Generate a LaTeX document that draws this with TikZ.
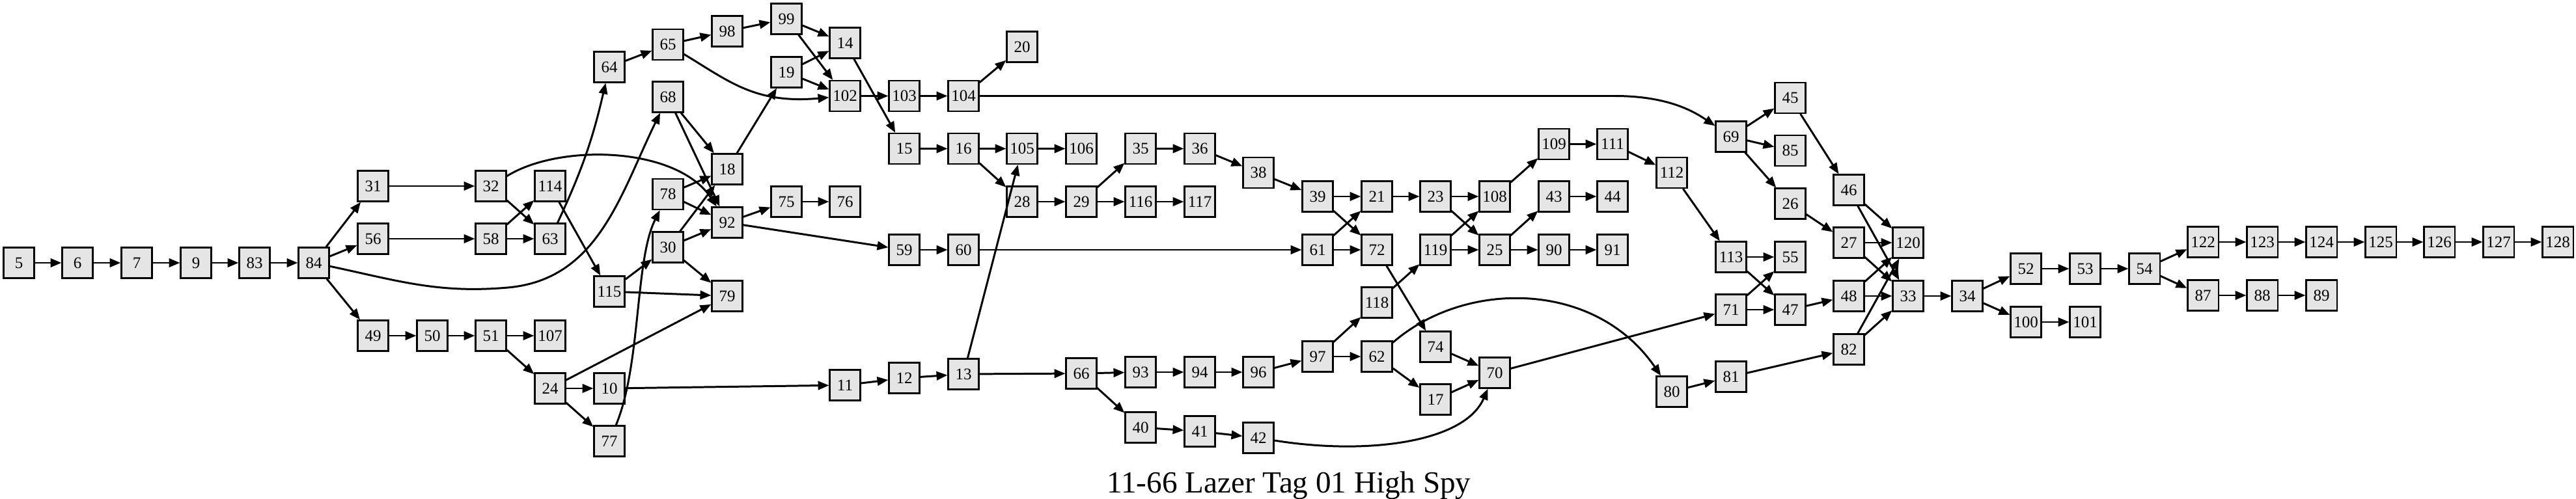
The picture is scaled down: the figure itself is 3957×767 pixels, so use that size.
\documentclass[tikz,border=0pt]{standalone}
\usepackage{fontspec}
\setmainfont{Liberation Serif}
\usetikzlibrary{arrows.meta}

\definecolor{boxfill}{gray}{0.9}
\tikzset{
  state/.style={draw, line width=0.6pt, fill=boxfill, minimum width=0.47cm, minimum height=0.47cm,
    inner sep=0pt, font=\fontsize{7.1}{8}\selectfont},
  conn/.style={line width=0.85pt, -{Triangle[length=4.8pt,width=3.8pt]}}
}

\begin{document}
\begin{tikzpicture}[x=0.01cm, y=-0.01cm]
    \useasboundingbox (0,0) rectangle (3957,767);

    % Opening chain
    \node[state] (n5) at (29,404) {5};
    \node[state] (n6) at (119,404) {6};
    \node[state] (n7) at (210,404) {7};
    \node[state] (n9) at (301,404) {9};
    \node[state] (n83) at (391,404) {83};
    \node[state] (n84) at (482,404) {84};

    % First branches
    \node[state] (n31) at (573,286) {31};
    \node[state] (n56) at (573,367) {56};
    \node[state] (n49) at (573,516) {49};
    \node[state] (n50) at (664,516) {50};
    \node[state] (n32) at (754,286) {32};
    \node[state] (n58) at (754,367) {58};
    \node[state] (n51) at (754,516) {51};
    \node[state] (n114) at (845,286) {114};
    \node[state] (n63) at (845,367) {63};
    \node[state] (n107) at (845,516) {107};
    \node[state] (n24) at (845,597) {24};
    \node[state] (n64) at (936,103) {64};
    \node[state] (n115) at (936,448) {115};
    \node[state] (n10) at (936,597) {10};
    \node[state] (n77) at (936,678) {77};
    \node[state] (n65) at (1026,68.5) {65};
    \node[state] (n68) at (1026,149) {68};
    \node[state] (n78) at (1026,298.5) {78};
    \node[state] (n30) at (1026,380) {30};
    \node[state] (n98) at (1117,48) {98};
    \node[state] (n18) at (1117,260) {18};
    \node[state] (n92) at (1117,342) {92};
    \node[state] (n79) at (1117,455) {79};
    \node[state] (n99) at (1208,29) {99};
    \node[state] (n19) at (1208,111) {19};
    \node[state] (n75) at (1208,310) {75};
    \node[state] (n14) at (1298,66) {14};
    \node[state] (n102) at (1298,147.5) {102};
    \node[state] (n76) at (1298,310) {76};
    \node[state] (n11) at (1298,592) {11};
    \node[state] (n103) at (1389,147.5) {103};
    \node[state] (n15) at (1389,228.5) {15};
    \node[state] (n59) at (1389,384) {59};
    \node[state] (n12) at (1389,581) {12};
    \node[state] (n104) at (1480,147.5) {104};
    \node[state] (n16) at (1480,228.5) {16};
    \node[state] (n60) at (1480,384) {60};
    \node[state] (n13) at (1480,575) {13};

    % Middle section
    \node[state] (n20) at (1570,72) {20};
    \node[state] (n105) at (1570,228.5) {105};
    \node[state] (n28) at (1570,310) {28};
    \node[state] (n106) at (1661,228.5) {106};
    \node[state] (n29) at (1661,310) {29};
    \node[state] (n66) at (1661,574) {66};
    \node[state] (n35) at (1752,228.5) {35};
    \node[state] (n116) at (1752,310) {116};
    \node[state] (n93) at (1752,572) {93};
    \node[state] (n40) at (1752,657) {40};
    \node[state] (n36) at (1843,228.5) {36};
    \node[state] (n117) at (1843,310) {117};
    \node[state] (n94) at (1843,572) {94};
    \node[state] (n41) at (1843,663) {41};
    \node[state] (n38) at (1933,265.5) {38};
    \node[state] (n96) at (1933,572) {96};
    \node[state] (n42) at (1933,673) {42};
    \node[state] (n39) at (2024,302) {39};
    \node[state] (n61) at (2024,384) {61};
    \node[state] (n97) at (2024,548) {97};
    \node[state] (n21) at (2115,302) {21};
    \node[state] (n72) at (2115,384) {72};
    \node[state] (n118) at (2115,465) {118};
    \node[state] (n62) at (2115,548) {62};
    \node[state] (n23) at (2205,302) {23};
    \node[state] (n119) at (2205,384) {119};
    \node[state] (n74) at (2205,533) {74};
    \node[state] (n17) at (2205,614) {17};
    \node[state] (n108) at (2296,302) {108};
    \node[state] (n25) at (2296,384) {25};
    \node[state] (n70) at (2296,573) {70};
    \node[state] (n109) at (2387,221.5) {109};
    \node[state] (n43) at (2387,302) {43};
    \node[state] (n90) at (2387,384) {90};
    \node[state] (n111) at (2477,221.5) {111};
    \node[state] (n44) at (2477,302) {44};
    \node[state] (n91) at (2477,384) {91};

    % Closing section
    \node[state] (n112) at (2568,265.5) {112};
    \node[state] (n80) at (2568,602) {80};
    \node[state] (n69) at (2659,210) {69};
    \node[state] (n113) at (2659,395) {113};
    \node[state] (n71) at (2659,476) {71};
    \node[state] (n81) at (2659,579) {81};
    \node[state] (n45) at (2750,150.5) {45};
    \node[state] (n85) at (2750,231.5) {85};
    \node[state] (n26) at (2750,313) {26};
    \node[state] (n55) at (2750,395) {55};
    \node[state] (n47) at (2750,476) {47};
    \node[state] (n46) at (2840,292) {46};
    \node[state] (n27) at (2840,373) {27};
    \node[state] (n48) at (2840,455) {48};
    \node[state] (n82) at (2840,537) {82};
    \node[state] (n120) at (2931,373) {120};
    \node[state] (n33) at (2931,455) {33};
    \node[state] (n34) at (3022,455) {34};
    \node[state] (n52) at (3112,413) {52};
    \node[state] (n100) at (3112,495) {100};
    \node[state] (n53) at (3203,413) {53};
    \node[state] (n101) at (3203,495) {101};
    \node[state] (n54) at (3294,413) {54};
    \node[state] (n122) at (3384,372) {122};
    \node[state] (n87) at (3384,454) {87};
    \node[state] (n123) at (3475,372) {123};
    \node[state] (n88) at (3475,454) {88};
    \node[state] (n124) at (3566,372) {124};
    \node[state] (n89) at (3566,454) {89};
    \node[state] (n125) at (3657,372) {125};
    \node[state] (n126) at (3747,372) {126};
    \node[state] (n127) at (3838,372) {127};
    \node[state] (n128) at (3929,372) {128};

    % Title
    \node[font=\fontsize{13.4}{16}\selectfont, anchor=base] (title) at (1980,757) {11-66 Lazer Tag 01 High Spy};

    % Straight links
    \draw[conn] (n5) -- (n6);  \draw[conn] (n6) -- (n7);  \draw[conn] (n7) -- (n9);
    \draw[conn] (n9) -- (n83); \draw[conn] (n83) -- (n84);
    \draw[conn] (n84) -- (n31); \draw[conn] (n84) -- (n56); \draw[conn] (n84) -- (n49);
    \draw[conn] (n31) -- (n32); \draw[conn] (n32) -- (n63);
    \draw[conn] (n56) -- (n58); \draw[conn] (n58) -- (n114); \draw[conn] (n58) -- (n63);
    \draw[conn] (n114) -- (n115);
    \draw[conn] (n49) -- (n50); \draw[conn] (n50) -- (n51);
    \draw[conn] (n51) -- (n107); \draw[conn] (n51) -- (n24);
    \draw[conn] (n24) -- (n10); \draw[conn] (n24) -- (n77); \draw[conn] (n24) -- (n79);
    \draw[conn] (n115) -- (n30); \draw[conn] (n115) -- (n79);
    \draw[conn] (n10) -- (n11);
    \draw[conn] (n64) -- (n65); \draw[conn] (n65) -- (n98);
    \draw[conn] (n68) -- (n18); \draw[conn] (n68) -- (n92);
    \draw[conn] (n78) -- (n18); \draw[conn] (n78) -- (n92);
    \draw[conn] (n30) -- (n18); \draw[conn] (n30) -- (n92); \draw[conn] (n30) -- (n79);
    \draw[conn] (n18) -- (n19); \draw[conn] (n98) -- (n99);
    \draw[conn] (n99) -- (n14); \draw[conn] (n99) -- (n102);
    \draw[conn] (n19) -- (n14); \draw[conn] (n19) -- (n102);
    \draw[conn] (n14) -- (n15);
    \draw[conn] (n102) -- (n103); \draw[conn] (n103) -- (n104); \draw[conn] (n104) -- (n20);
    \draw[conn] (n92) -- (n75); \draw[conn] (n92) -- (n59); \draw[conn] (n75) -- (n76);
    \draw[conn] (n15) -- (n16); \draw[conn] (n16) -- (n105); \draw[conn] (n16) -- (n28);
    \draw[conn] (n59) -- (n60); \draw[conn] (n60) -- (n61);
    \draw[conn] (n11) -- (n12); \draw[conn] (n12) -- (n13);
    \draw[conn] (n13) -- (n105); \draw[conn] (n13) -- (n66);
    \draw[conn] (n105) -- (n106);
    \draw[conn] (n28) -- (n29); \draw[conn] (n29) -- (n35); \draw[conn] (n29) -- (n116);
    \draw[conn] (n35) -- (n36); \draw[conn] (n36) -- (n38); \draw[conn] (n38) -- (n39);
    \draw[conn] (n116) -- (n117);
    \draw[conn] (n66) -- (n93); \draw[conn] (n66) -- (n40);
    \draw[conn] (n93) -- (n94); \draw[conn] (n94) -- (n96); \draw[conn] (n96) -- (n97);
    \draw[conn] (n40) -- (n41); \draw[conn] (n41) -- (n42);
    \draw[conn] (n39) -- (n21); \draw[conn] (n39) -- (n72);
    \draw[conn] (n61) -- (n21); \draw[conn] (n61) -- (n72);
    \draw[conn] (n97) -- (n118); \draw[conn] (n97) -- (n62);
    \draw[conn] (n21) -- (n23); \draw[conn] (n72) -- (n74); \draw[conn] (n118) -- (n119);
    \draw[conn] (n62) -- (n17);
    \draw[conn] (n23) -- (n108); \draw[conn] (n23) -- (n25);
    \draw[conn] (n119) -- (n108); \draw[conn] (n119) -- (n25);
    \draw[conn] (n74) -- (n70); \draw[conn] (n17) -- (n70); \draw[conn] (n70) -- (n71);
    \draw[conn] (n108) -- (n109); \draw[conn] (n25) -- (n43); \draw[conn] (n25) -- (n90);
    \draw[conn] (n109) -- (n111); \draw[conn] (n43) -- (n44); \draw[conn] (n90) -- (n91);
    \draw[conn] (n111) -- (n112); \draw[conn] (n112) -- (n113);
    \draw[conn] (n69) -- (n45); \draw[conn] (n69) -- (n85); \draw[conn] (n69) -- (n26);
    \draw[conn] (n113) -- (n55); \draw[conn] (n113) -- (n47);
    \draw[conn] (n71) -- (n55); \draw[conn] (n71) -- (n47);
    \draw[conn] (n80) -- (n81); \draw[conn] (n81) -- (n82);
    \draw[conn] (n45) -- (n46); \draw[conn] (n26) -- (n27); \draw[conn] (n47) -- (n48);
    \draw[conn] (n46) -- (n120); \draw[conn] (n46) -- (n33);
    \draw[conn] (n27) -- (n120); \draw[conn] (n27) -- (n33);
    \draw[conn] (n48) -- (n120); \draw[conn] (n48) -- (n33);
    \draw[conn] (n82) -- (n120); \draw[conn] (n82) -- (n33);
    \draw[conn] (n33) -- (n34);
    \draw[conn] (n34) -- (n52); \draw[conn] (n34) -- (n100);
    \draw[conn] (n52) -- (n53); \draw[conn] (n53) -- (n54); \draw[conn] (n100) -- (n101);
    \draw[conn] (n54) -- (n122); \draw[conn] (n54) -- (n87);
    \draw[conn] (n122) -- (n123); \draw[conn] (n123) -- (n124); \draw[conn] (n124) -- (n125);
    \draw[conn] (n125) -- (n126); \draw[conn] (n126) -- (n127); \draw[conn] (n127) -- (n128);
    \draw[conn] (n87) -- (n88); \draw[conn] (n88) -- (n89);

    % Curved links
    \draw[conn] (n84) to[out=-12,in=185] (780,442) to[out=5,in=-116] (n68);
    \draw[conn] (n32) .. controls (860,220) and (1040,225) .. (n92);
    \draw[conn] (n63) to[bend right=6] (n64);
    \draw[conn] (n77) .. controls (985,560) and (975,400) .. (n78);
    \draw[conn] (n65) .. controls (1120,125) and (1160,160) .. (n102);
    \draw[conn] (n104) -- (2480,147.5) .. controls (2560,147.5) and (2600,170) .. (n69);
    \draw[conn] (n62) .. controls (2250,430) and (2450,430) .. (n80);
    \draw[conn] (n42) .. controls (2100,700) and (2250,680) .. (n70);
\end{tikzpicture}
\end{document}
